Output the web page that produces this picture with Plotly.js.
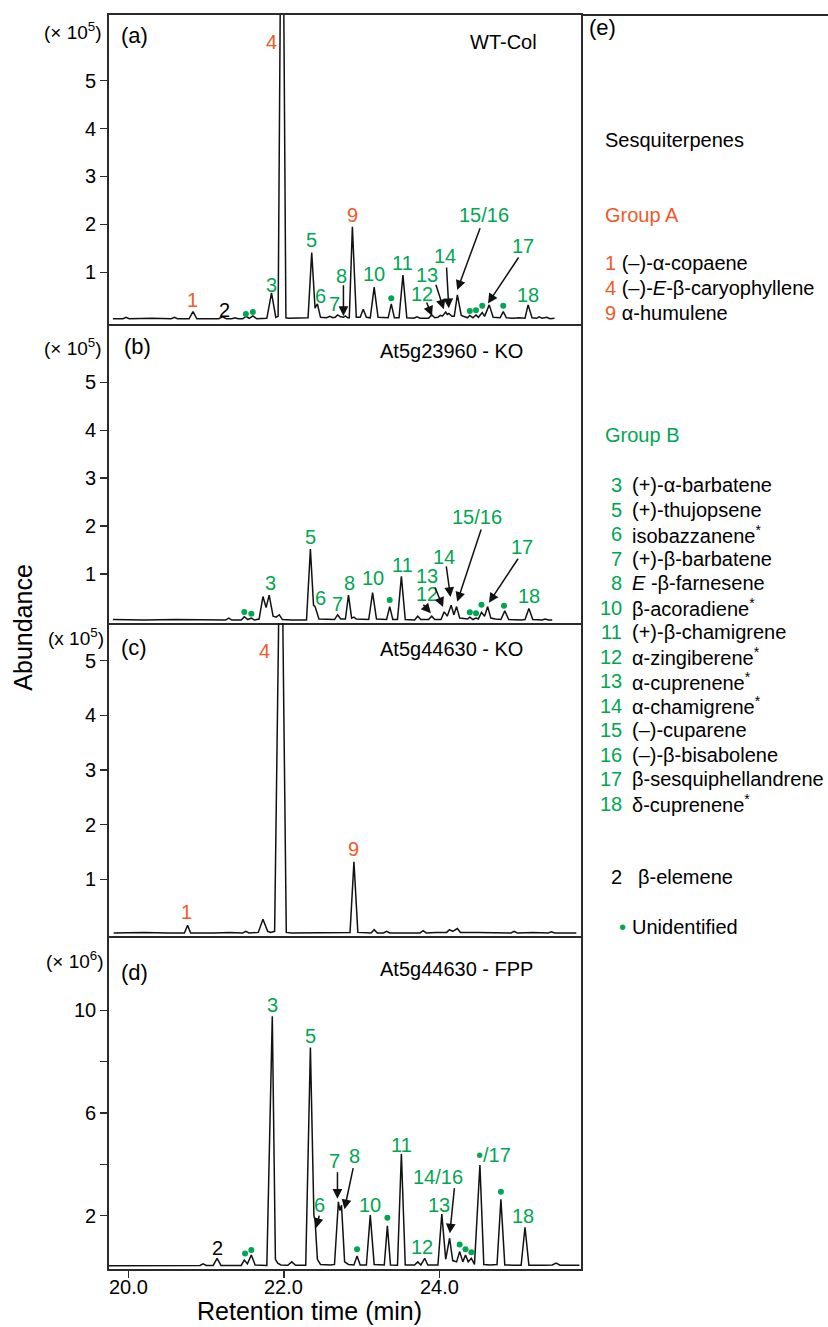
<!DOCTYPE html>
<html><head><meta charset="utf-8">
<script src="https://cdn.plot.ly/plotly-3.0.1.min.js"></script>
<style>html,body{margin:0;padding:0;background:#fff}#chart{width:828px;height:1327px}</style>
</head><body><div id="chart"></div>
<script>
const RED = '#F05A28', GREEN = '#00A651', BLACK = '#000000';

// ---------- (a) WT-Col (x 10^5) ----------
const aTime = [19.80, 19.93, 19.97, 20.01, 20.30, 20.55, 20.59, 20.63, 20.78, 20.83, 20.88, 21.16, 21.21, 21.26, 21.33, 21.37, 21.41, 21.47, 21.51, 21.555, 21.60, 21.65, 21.78, 21.84, 21.895, 21.925, 21.95, 21.975, 22.00, 22.025, 22.06, 22.25, 22.31, 22.357, 22.40, 22.43, 22.47, 22.55, 22.59, 22.63, 22.66, 22.69, 22.73, 22.765, 22.79, 22.82, 22.84, 22.88, 22.93, 22.98, 23.02, 23.06, 23.11, 23.16, 23.21, 23.34, 23.38, 23.42, 23.48, 23.53, 23.58, 23.67, 23.71, 23.75, 23.86, 23.90, 23.94, 23.98, 24.01, 24.04, 24.08, 24.10, 24.12, 24.16, 24.19, 24.23, 24.28, 24.36, 24.39, 24.43, 24.47, 24.50, 24.55, 24.58, 24.64, 24.69, 24.78, 24.82, 24.86, 24.95, 25.02, 25.10, 25.14, 25.19, 25.25, 25.28, 25.32, 25.38, 25.42, 25.48];
const aAbund = [0.03, 0.03, 0.06, 0.03, 0.04, 0.03, 0.06, 0.03, 0.03, 0.18, 0.03, 0.03, 0.07, 0.03, 0.03, 0.05, 0.03, 0.03, 0.08, 0.04, 0.09, 0.03, 0.04, 0.57, 0.06, 0.08, 6.0, 12.0, 6.0, 0.05, 0.04, 0.04, 0.05, 1.41, 0.25, 0.34, 0.06, 0.05, 0.08, 0.05, 0.06, 0.11, 0.07, 0.06, 0.09, 0.05, 0.05, 1.95, 0.06, 0.06, 0.23, 0.06, 0.05, 0.69, 0.06, 0.05, 0.34, 0.05, 0.05, 0.94, 0.05, 0.04, 0.07, 0.04, 0.04, 0.11, 0.05, 0.06, 0.10, 0.09, 0.17, 0.12, 0.14, 0.08, 0.08, 0.53, 0.10, 0.05, 0.10, 0.05, 0.11, 0.06, 0.16, 0.08, 0.32, 0.06, 0.05, 0.18, 0.05, 0.04, 0.05, 0.04, 0.32, 0.05, 0.04, 0.07, 0.04, 0.06, 0.03, 0.04];
const aDotTime = [21.51, 21.60, 23.38, 24.39, 24.47, 24.55, 24.82];
const aDotAbund = [0.13, 0.17, 0.46, 0.19, 0.21, 0.30, 0.30];
const aLabels = [["1",20.82,0.42,RED],["2",21.23,0.21,BLACK],["3",21.84,0.73,GREEN],["4",21.84,5.81,RED],["5",22.357,1.67,GREEN],["6",22.47,0.51,GREEN],["7",22.645,0.34,GREEN],["8",22.735,0.92,GREEN],["9",22.886,2.20,RED],["10",23.16,0.96,GREEN],["11",23.527,1.19,GREEN],["12",23.777,0.55,GREEN],["13",23.84,0.95,GREEN],["14",24.07,1.34,GREEN],["15/16",24.57,2.20,GREEN],["17",25.075,1.55,GREEN],["18",25.14,0.53,GREEN]];
const aArrows = [[22.765,0.76,22.765,0.09],[23.827,0.40,23.904,0.09],[23.948,0.77,24.055,0.23],[24.09,1.13,24.12,0.25],[24.529,1.95,24.228,0.63],[25.03,1.34,24.623,0.35]];

// ---------- (b) At5g23960 - KO (x 10^5) ----------
const bTime = [19.80, 20.20, 20.60, 21.00, 21.25, 21.29, 21.33, 21.45, 21.49, 21.535, 21.58, 21.62, 21.68, 21.73, 21.77, 21.81, 21.86, 21.90, 21.94, 21.98, 22.10, 22.29, 22.34, 22.38, 22.40, 22.45, 22.60, 22.65, 22.69, 22.73, 22.79, 22.83, 22.87, 22.90, 22.93, 23.09, 23.14, 23.19, 23.32, 23.36, 23.40, 23.46, 23.51, 23.56, 23.68, 23.72, 23.76, 23.86, 23.90, 23.94, 24.02, 24.06, 24.10, 24.15, 24.185, 24.22, 24.26, 24.32, 24.36, 24.39, 24.43, 24.47, 24.50, 24.54, 24.58, 24.62, 24.66, 24.72, 24.79, 24.84, 24.89, 25.05, 25.10, 25.15, 25.20, 25.32, 25.36, 25.40, 25.45];
const bAbund = [0.05, 0.04, 0.05, 0.04, 0.04, 0.08, 0.04, 0.04, 0.11, 0.05, 0.08, 0.04, 0.06, 0.53, 0.30, 0.56, 0.12, 0.10, 0.15, 0.05, 0.04, 0.04, 1.52, 0.35, 0.32, 0.06, 0.05, 0.05, 0.15, 0.06, 0.06, 0.56, 0.08, 0.10, 0.06, 0.05, 0.61, 0.06, 0.05, 0.32, 0.05, 0.05, 0.95, 0.05, 0.04, 0.12, 0.05, 0.05, 0.12, 0.05, 0.05, 0.21, 0.12, 0.35, 0.15, 0.32, 0.08, 0.07, 0.06, 0.10, 0.05, 0.08, 0.06, 0.20, 0.12, 0.32, 0.08, 0.06, 0.05, 0.23, 0.05, 0.04, 0.05, 0.28, 0.05, 0.04, 0.06, 0.04, 0.04];
const bDotTime = [21.49, 21.58, 23.36, 24.39, 24.47, 24.54, 24.83];
const bDotAbund = [0.21, 0.17, 0.46, 0.20, 0.18, 0.36, 0.34];
const bLabels = [["3",21.827,0.82,GREEN],["5",22.335,1.78,GREEN],["6",22.474,0.49,GREEN],["7",22.688,0.38,GREEN],["8",22.839,0.82,GREEN],["10",23.144,0.91,GREEN],["11",23.527,1.19,GREEN],["12",23.84,0.575,GREEN],["13",23.84,0.955,GREEN],["14",24.055,1.363,GREEN],["15/16",24.485,2.186,GREEN],["17",25.066,1.572,GREEN],["18",25.152,0.543,GREEN]];
const bArrows = [[23.776,0.39,23.89,0.18],[23.935,0.75,24.046,0.31],[24.085,1.19,24.142,0.52],[24.542,1.96,24.228,0.42],[25.023,1.35,24.636,0.40]];

// ---------- (c) At5g44630 - KO (x 10^5) ----------
const cTime = [19.81, 20.20, 20.50, 20.72, 20.76, 20.80, 21.10, 21.30, 21.47, 21.51, 21.55, 21.67, 21.73, 21.79, 21.83, 21.88, 21.93, 21.958, 21.987, 22.03, 22.10, 22.50, 22.85, 22.90, 22.95, 23.12, 23.16, 23.20, 23.28, 23.32, 23.36, 23.60, 23.75, 23.79, 23.83, 23.95, 24.09, 24.13, 24.17, 24.23, 24.27, 24.50, 24.92, 24.96, 25.00, 25.20, 25.40, 25.44, 25.48, 25.76];
const cAbund = [0.02, 0.03, 0.02, 0.02, 0.16, 0.02, 0.02, 0.03, 0.02, 0.05, 0.02, 0.03, 0.27, 0.05, 0.03, 0.05, 5.5, 12.0, 5.5, 0.03, 0.02, 0.02, 0.03, 1.32, 0.03, 0.02, 0.08, 0.02, 0.02, 0.05, 0.02, 0.02, 0.02, 0.06, 0.02, 0.03, 0.03, 0.08, 0.05, 0.10, 0.03, 0.03, 0.02, 0.05, 0.02, 0.03, 0.02, 0.04, 0.02, 0.02];
const cDotTime = [];
const cDotAbund = [];
const cLabels = [["1",20.746,0.41,RED],["4",21.755,5.18,RED],["9",22.895,1.55,RED]];
const cArrows = [];

// ---------- (d) At5g44630 - FPP (x 10^6) ----------
const dTime = [19.75, 20.30, 20.60, 20.92, 20.96, 21.00, 21.09, 21.14, 21.19, 21.30, 21.45, 21.49, 21.53, 21.58, 21.63, 21.78, 21.85, 21.89, 21.92, 21.96, 22.05, 22.10, 22.15, 22.28, 22.34, 22.385, 22.40, 22.43, 22.47, 22.60, 22.65, 22.70, 22.72, 22.74, 22.78, 22.83, 22.90, 22.94, 22.98, 23.06, 23.11, 23.16, 23.29, 23.33, 23.37, 23.46, 23.51, 23.56, 23.68, 23.72, 23.76, 23.81, 23.85, 23.98, 24.03, 24.08, 24.13, 24.17, 24.22, 24.26, 24.30, 24.335, 24.37, 24.41, 24.45, 24.52, 24.57, 24.65, 24.74, 24.79, 24.84, 24.95, 25.05, 25.10, 25.15, 25.35, 25.45, 25.50, 25.55, 25.80];
const dAbund = [0.05, 0.06, 0.05, 0.06, 0.12, 0.06, 0.06, 0.34, 0.06, 0.05, 0.06, 0.27, 0.12, 0.47, 0.08, 0.06, 9.77, 0.30, 0.15, 0.08, 0.07, 0.20, 0.07, 0.07, 8.55, 2.00, 1.83, 0.30, 0.10, 0.08, 0.10, 2.54, 2.20, 2.41, 0.20, 0.10, 0.08, 0.43, 0.08, 0.08, 2.02, 0.10, 0.08, 1.60, 0.08, 0.07, 4.40, 0.08, 0.08, 0.20, 0.08, 0.34, 0.08, 0.08, 2.06, 0.30, 1.12, 0.25, 0.20, 0.60, 0.20, 0.47, 0.20, 0.34, 0.10, 3.97, 0.10, 0.08, 0.10, 2.64, 0.08, 0.07, 0.07, 1.55, 0.07, 0.07, 0.08, 0.15, 0.07, 0.07];
const dDotTime = [21.50, 21.58, 22.94, 23.33, 24.26, 24.335, 24.41, 24.79];
const dDotAbund = [0.53, 0.66, 0.69, 1.92, 0.88, 0.69, 0.57, 2.93];
const dLabels = [["2",21.139,0.73,BLACK],["3",21.849,10.2,GREEN],["5",22.345,9.0,GREEN],["6",22.456,2.40,GREEN],["7",22.649,4.13,GREEN],["8",22.903,4.33,GREEN],["10",23.11,2.41,GREEN],["11",23.506,4.75,GREEN],["12",23.777,0.79,GREEN],["13",23.99,2.41,GREEN],["14/16",23.977,3.52,GREEN],["\u2022/17",24.70,4.35,GREEN],["18",25.08,1.99,GREEN]];
const dArrows = [[22.459,2.06,22.413,1.52],[22.688,3.75,22.688,2.66],[22.894,3.91,22.778,2.25],[24.194,3.13,24.133,1.31]];

// ---------- tick labels / texts ----------
const xTickVals = [20, 22, 24];
const xTickText = ["20.0", "22.0", "24.0"];
const y5TickVals = [1, 2, 3, 4, 5];
const y6TickVals = [2, 4, 6, 8, 10];
const y6TickText = ["2", " ", "6", " ", "10"];
const panelLetters = ["(a)", "(b)", "(c)", "(d)"];
const sampleNames = ["WT-Col", "At5g23960 - KO", "At5g44630 - KO", "At5g44630 - FPP"];
const scaleTexts = ["(\u00d7 10<sup>5</sup>)", "(\u00d7 10<sup>5</sup>)", "(x 10<sup>5</sup>)", "(\u00d7 10<sup>6</sup>)"];
const groupANums = ["1", "4", "9"];
const groupANames = ["(\u2013)-\u03b1-copaene", "(\u2013)-<i>E</i>-\u03b2-caryophyllene", "\u03b1-humulene"];
const groupBNums = ["3","5","6","7","8","10","11","12","13","14","15","16","17","18"];
const groupBNames = ["(+)-\u03b1-barbatene", "(+)-thujopsene", "isobazzanene<sup>*</sup>", "(+)-\u03b2-barbatene", "<i>E</i> -\u03b2-farnesene", "\u03b2-acoradiene<sup>*</sup>", "(+)-\u03b2-chamigrene", "\u03b1-zingiberene<sup>*</sup>", "\u03b1-cuprenene<sup>*</sup>", "\u03b1-chamigrene<sup>*</sup>", "(\u2013)-cuparene", "(\u2013)-\u03b2-bisabolene", "\u03b2-sesquiphellandrene", "\u03b4-cuprenene<sup>*</sup>"];

// ---------- layout geometry (page pixels) ----------
const FONT = "Liberation Sans, Arial, Helvetica, sans-serif";
const L = 109, R = 581, T = 15, B = 1269;
function px(x) { return (x - L) / (R - L); }
function py(y) { return (B - y) / (B - T); }
const FRAME = '#2b2b2b';

const panels = [
  {t: aTime, v: aAbund, dt: aDotTime, dv: aDotAbund, labels: aLabels, arrows: aArrows},
  {t: bTime, v: bAbund, dt: bDotTime, dv: bDotAbund, labels: bLabels, arrows: bArrows},
  {t: cTime, v: cAbund, dt: cDotTime, dv: cDotAbund, labels: cLabels, arrows: cArrows},
  {t: dTime, v: dAbund, dt: dDotTime, dv: dDotAbund, labels: dLabels, arrows: dArrows}
];
const domains = [[0.7536, 1], [0.5152, 0.7536], [0.2655, 0.5152], [0, 0.2655]];
const yRanges = [[-0.079, 6.37], [-0.021, 6.22], [-0.037, 5.69], [-0.078, 12.89]];
const letterPos = [[119, 35], [122, 347], [119, 647], [119, 972]];
const scalePos = [[72.5, 31], [73.3, 347], [76, 637], [75.3, 960]];
const namePos = [[468, 42], [378, 351], [378, 649], [378, 969]];

const traces = [];
const annotations = [];
const layout = {
  width: 828, height: 1327,
  margin: {l: L, r: 828 - R, t: T, b: 1327 - B},
  paper_bgcolor: '#fff', plot_bgcolor: '#fff',
  showlegend: false,
  font: {family: FONT, size: 20, color: '#000'},
  annotations: annotations,
  shapes: [
    {type: 'line', xref: 'paper', yref: 'paper', x0: px(581), x1: px(830), y0: 1, y1: 1, line: {color: FRAME, width: 1.8}}
  ]
};

panels.forEach((p, i) => {
  const xs = i === 0 ? 'x' : 'x' + (i + 1);
  const ys = i === 0 ? 'y' : 'y' + (i + 1);
  const xk = i === 0 ? 'xaxis' : 'xaxis' + (i + 1);
  const yk = i === 0 ? 'yaxis' : 'yaxis' + (i + 1);
  traces.push({x: p.t, y: p.v, xaxis: xs, yaxis: ys, type: 'scatter', mode: 'lines',
    line: {color: '#111', width: 1.5}, hoverinfo: 'skip'});
  if (p.dt.length) {
    traces.push({x: p.dt, y: p.dv, xaxis: xs, yaxis: ys, type: 'scatter', mode: 'markers',
      marker: {color: GREEN, size: 6}, hoverinfo: 'skip'});
  }
  const isBottom = i === 3;
  layout[xk] = {
    domain: [0, 1], anchor: ys, range: [19.75, 25.82],
    showline: true, mirror: i === 0, linecolor: FRAME, linewidth: 1.8,
    showgrid: false, zeroline: false,
    ticks: isBottom ? 'outside' : '', ticklen: 7, tickwidth: 1.5, tickcolor: FRAME,
    showticklabels: false, tickvals: xTickVals
  };
  layout[yk] = {
    domain: domains[i], anchor: xs, range: yRanges[i],
    showline: true, mirror: true, linecolor: FRAME, linewidth: 1.8,
    showgrid: false, zeroline: false,
    ticks: 'outside', ticklen: 7, tickwidth: 1.5, tickcolor: FRAME,
    tickvals: isBottom ? y6TickVals : y5TickVals,
    ticktext: isBottom ? y6TickText : y5TickVals.map(String),
    tickfont: {size: 20, family: FONT, color: '#000'}
  };
  // peak labels
  p.labels.forEach(lb => {
    annotations.push({xref: xs, yref: ys, x: lb[1], y: lb[2], text: lb[0], showarrow: false,
      xanchor: 'center', yanchor: 'middle', font: {size: 20, color: lb[3], family: FONT}});
  });
  // arrows
  p.arrows.forEach(a => {
    annotations.push({xref: xs, yref: ys, axref: xs, ayref: ys, x: a[2], y: a[3], ax: a[0], ay: a[1],
      text: '', showarrow: true, arrowhead: 2, arrowsize: 1.3, arrowwidth: 1.5, arrowcolor: '#111', standoff: 0});
  });
  // panel letter, scale, sample name
  annotations.push({xref: 'paper', yref: 'paper', x: px(letterPos[i][0]), y: py(letterPos[i][1]), text: panelLetters[i],
    showarrow: false, xanchor: 'left', yanchor: 'middle', font: {size: 22, family: FONT, color: '#000'}});
  annotations.push({xref: 'paper', yref: 'paper', x: px(scalePos[i][0]), y: py(scalePos[i][1]), text: scaleTexts[i],
    showarrow: false, xanchor: 'center', yanchor: 'middle', font: {size: 19, family: FONT, color: '#000'}});
  annotations.push({xref: 'paper', yref: 'paper', x: px(namePos[i][0]), y: py(namePos[i][1]), text: sampleNames[i],
    showarrow: false, xanchor: 'left', yanchor: 'middle', font: {size: 20, family: FONT, color: '#000'}});
});

// x tick labels on the bottom panel (placed on the x4 scale)
xTickVals.forEach((v, k) => {
  annotations.push({xref: 'x4', yref: 'paper', x: v, y: py(1287), text: xTickText[k], showarrow: false,
    xanchor: 'center', yanchor: 'middle', font: {size: 20, family: FONT, color: '#000'}});
});

// axis titles
annotations.push({xref: 'paper', yref: 'paper', x: px(22.7), y: py(627), text: 'Abundance', textangle: -90,
  showarrow: false, xanchor: 'center', yanchor: 'middle', font: {size: 25, family: FONT, color: '#000'}});
annotations.push({xref: 'paper', yref: 'paper', x: px(309), y: py(1311), text: 'Retention time (min)',
  showarrow: false, xanchor: 'center', yanchor: 'middle', font: {size: 25, family: FONT, color: '#000'}});

// panel (e) legend text
function addText(x, y, text, color, anchor, size) {
  annotations.push({xref: 'paper', yref: 'paper', x: px(x), y: py(y), text: text, showarrow: false,
    xanchor: anchor || 'left', yanchor: 'middle', font: {size: size || 20, family: FONT, color: color || '#000'}});
}
addText(587, 27, '(e)', '#000', 'left', 22);
addText(603, 140, 'Sesquiterpenes');
addText(603, 215, 'Group A', RED);
groupANums.forEach((n, k) => {
  addText(603, 263 + k * 24.8, '<span style="color:' + RED + '">' + n + '</span> ' + groupANames[k]);
});
addText(603, 435, 'Group B', GREEN);
groupBNums.forEach((n, k) => {
  const y = 485 + k * 24.5;
  addText(624, y, n, GREEN, 'right');
  addText(630, y, groupBNames[k]);
});
addText(624, 877, '2', '#000', 'right');
addText(636, 877, '\u03b2-elemene');
addText(622, 927, '\u2022', GREEN, 'center');
addText(630, 927, 'Unidentified');

Plotly.newPlot('chart', traces, layout, {staticPlot: true, displayModeBar: false});
</script>
</body></html>
